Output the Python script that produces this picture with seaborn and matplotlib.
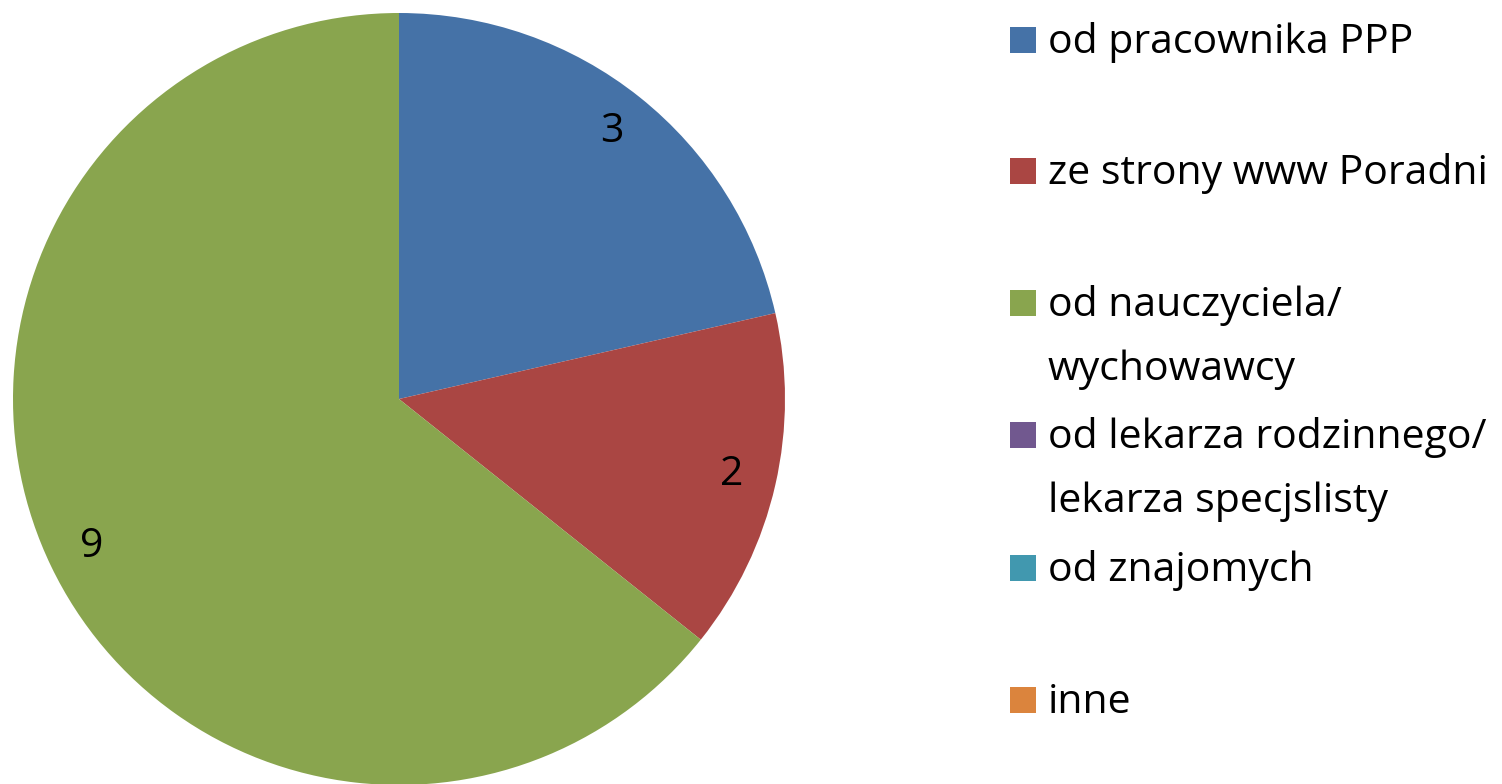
import numpy as np
import matplotlib
matplotlib.use("Agg")
import matplotlib.pyplot as plt
import seaborn as sns
from matplotlib.patches import Rectangle

sns.set_theme(style="white")
plt.rcParams['font.family'] = ['Open Sans', 'DejaVu Sans']

# data
categories = ["od pracownika PPP",
              "ze strony www Poradni",
              "od nauczyciela/\nwychowawcy",
              "od lekarza rodzinnego/\nlekarza specjslisty",
              "od znajomych",
              "inne"]
counts = [3, 2, 9, 0, 0, 0]
colors = ["#4572A7", "#AA4643", "#89A54E", "#71588F", "#4198AF", "#DB843D"]

W, H = 1502, 784
fig = plt.figure(figsize=(W / 100, H / 100), dpi=100)
fig.patch.set_facecolor("white")

# pie placed to match reference: centre (399, 399) px, radius 386 px
cx, cy, r = 399, 399, 386
ax = fig.add_axes([(cx - r) / W, (H - cy - r) / H, 2 * r / W, 2 * r / H])

fs = 29.5

def fmt(pct):
    v = int(round(pct * sum(counts) / 100.0))
    return str(v) if v > 0 else ""

wedges, texts, autotexts = ax.pie(counts, colors=colors, startangle=90,
                                  counterclock=False, autopct=fmt,
                                  pctdistance=0.885, radius=1.0,
                                  wedgeprops=dict(linewidth=0),
                                  textprops=dict(fontsize=fs, color="black"))
ax.set_xlim(-1, 1)
ax.set_ylim(-1, 1)
ax.set_aspect("equal")
ax.axis("off")

# legend drawn by hand to follow reference spacing
row_y = [40, 171, 303, 435, 568, 700]
box = 26
for lab, col, yc in zip(categories, colors, row_y):
    fig.patches.append(Rectangle((1010 / W, (H - yc - box / 2) / H), box / W, box / H,
                                 transform=fig.transFigure, facecolor=col,
                                 edgecolor="none"))
    for i, line in enumerate(lab.split("\n")):
        fig.text(1048 / W, (H - (yc + 13 + 64 * i)) / H, line, fontsize=fs,
                 va="baseline", ha="left", color="black")

fig.savefig("out.png", dpi=100, facecolor="white")
